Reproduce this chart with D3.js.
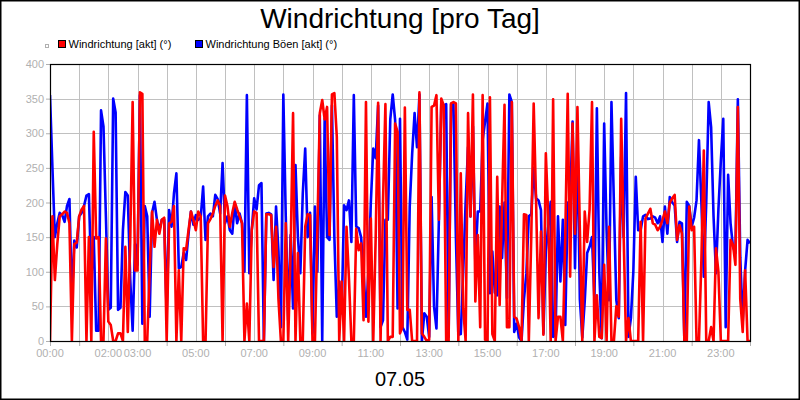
<!DOCTYPE html>
<meta charset="utf-8">
<style>
  body { margin: 0; background: #fff; }
  text { font-family: "Liberation Sans", Arial, sans-serif; }
</style>

<!-- Load d3.js -->
<script src="https://cdn.jsdelivr.net/npm/d3@7"></script>

<div id="my_dataviz"></div>

<script>

// values every 5 minutes, 00:00 .. 24:00
var windAkt = [
  0,180,88,140,180,183,187,185,170,0,
  140,142,180,190,195,0,150,0,302,148,
  150,0,0,148,28,23,0,0,11,11,
  0,136,13,143,345,102,102,359,357,0,
  0,100,187,136,175,155,175,178,0,170,
  172,195,0,102,0,134,132,160,187,175,
  160,187,180,0,0,170,176,184,195,203,
  195,0,210,195,165,185,201,190,180,170,
  0,54,0,160,187,185,0,0,0,183,
  183,182,107,165,60,0,0,170,0,130,
  329,0,127,0,0,165,183,182,0,0,
  160,329,348,320,338,153,356,358,295,0,
  86,0,165,90,0,0,162,131,141,30,
  345,28,177,0,150,344,0,200,342,0,
  6,6,314,302,11,20,337,45,45,0,
  0,0,359,11,6,0,2,338,340,355,
  175,350,340,0,0,343,345,343,0,242,
  47,0,329,180,356,57,153,20,355,2,
  0,352,10,0,237,52,200,341,20,20,
  345,35,32,20,0,183,182,0,150,343,
  200,33,158,9,271,180,0,349,0,35,
  35,0,150,357,93,314,155,338,160,0,
  187,143,190,345,0,66,6,4,110,0,
  165,0,0,50,35,321,155,0,33,0,
  0,0,0,172,0,177,184,191,170,168,
  160,165,175,187,170,200,206,211,146,167,
  155,0,0,194,160,165,0,0,117,275,
  0,0,20,0,134,100,0,0,0,0,
  146,139,110,338,60,13,102,0,0
]

var windBoeen = [
  355,250,150,170,185,182,172,195,205,60,
  145,135,180,185,195,210,212,90,150,15,
  15,333,310,180,45,48,350,330,45,48,
  160,215,210,90,15,140,110,355,25,195,
  180,35,185,201,175,160,175,175,40,189,
  165,213,242,105,107,127,117,155,187,168,
  182,175,178,223,146,180,184,180,211,205,
  184,257,170,180,160,155,199,170,184,170,
  100,355,98,160,206,190,225,228,0,184,
  185,183,88,194,130,20,356,180,30,153,
  47,254,150,98,213,278,150,185,11,194,
  100,326,0,321,150,146,340,150,35,86,
  40,196,189,203,143,355,165,163,150,100,
  35,100,200,278,264,340,20,30,175,175,
  320,356,319,47,321,20,13,2,194,270,
  329,280,356,0,40,35,6,208,50,18,
  175,346,340,342,6,342,342,150,9,10,
  100,200,280,180,310,112,187,187,290,317,
  343,69,129,70,66,194,120,200,62,356,
  345,13,25,5,0,60,98,180,183,250,
  206,203,189,11,130,165,201,6,10,180,
  86,175,23,200,200,317,105,300,60,5,
  57,127,136,150,59,336,100,4,314,160,
  59,345,200,59,33,266,150,358,6,33,
  100,237,160,160,180,182,176,177,180,178,
  170,180,143,194,155,208,200,196,143,172,
  170,0,201,195,165,178,203,290,200,93,
  200,345,309,180,98,190,260,321,20,240,
  170,136,127,349,120,28,102,146,141
]

var yTicks = [0, 50, 100, 150, 200, 250, 300, 350, 400]
var xTickHours = [0, 1, 4, 6, 8, 10, 12, 14, 16, 18, 20, 22, 24]
var xLabelHours = [0, 2, 3, 5, 7, 9, 11, 13, 15, 17, 19, 21, 23]
var seriesNames = ["Windrichtung [akt] (°)", "Windrichtung Böen [akt] (°)"]
var seriesColors = ["#ff0000", "#0000ff"]
var titleText = "Windrichtung [pro Tag]"
var dateText = "07.05"

var W = 800, H = 400
var margin = {top: 64, right: 50, bottom: 59, left: 50}

var svg = d3.select("#my_dataviz")
  .append("svg")
    .attr("width", W)
    .attr("height", H)

// white background + outer frame
svg.append("rect")
  .attr("x", 0.75).attr("y", 0.75)
  .attr("width", W - 1.5).attr("height", H - 1.5)
  .attr("fill", "#fff")
  .attr("stroke", "#000")
  .attr("stroke-width", 1.5)

// title
svg.append("text")
  .attr("x", 400).attr("y", 28)
  .attr("text-anchor", "middle")
  .style("font-size", "28px")
  .text(titleText)

// scales
var x = d3.scaleLinear().domain([0, 24]).range([margin.left, W - margin.right])
var y = d3.scaleLinear().domain([0, 400]).range([H - margin.bottom, margin.top])

// grid
var grid = svg.append("g").attr("stroke", "#c0c0c0").attr("stroke-width", 1)
grid.selectAll(".hgrid")
  .data(yTicks)
  .enter().append("line")
    .attr("x1", x(0)).attr("x2", x(24))
    .attr("y1", function(d){ return Math.round(y(d)) + 0.5 })
    .attr("y2", function(d){ return Math.round(y(d)) + 0.5 })
grid.selectAll(".vgrid")
  .data(d3.range(0, 25))
  .enter().append("line")
    .attr("y1", y(0)).attr("y2", y(400))
    .attr("x1", function(d){ return Math.round(x(d)) + 0.5 })
    .attr("x2", function(d){ return Math.round(x(d)) + 0.5 })

// Y axis
var yAxis = svg.append("g")
  .attr("transform", "translate(" + x(0) + ",0)")
  .call(d3.axisLeft(y).tickValues(yTicks).tickSize(4).tickPadding(2))
yAxis.select(".domain").remove()
yAxis.selectAll("line").attr("stroke", "#b0b0b0")
yAxis.selectAll("text")
  .attr("fill", "#b0b0b0")
  .style("font-size", "11px")
  .style("font-family", "'Liberation Sans', Arial, sans-serif")

// X axis: ticks and labels sit at different hours
var xAxis = svg.append("g")
  .attr("transform", "translate(0," + y(0) + ")")
  .call(d3.axisBottom(x).tickValues(xTickHours).tickSize(5).tickFormat(""))
xAxis.select(".domain").remove()
xAxis.selectAll("line").attr("stroke", "#b0b0b0")

svg.append("g").selectAll("text")
  .data(xLabelHours)
  .enter().append("text")
    .attr("x", function(d){ return x(d) })
    .attr("y", y(0) + 16)
    .attr("text-anchor", "middle")
    .attr("fill", "#b0b0b0")
    .style("font-size", "11px")
    .text(function(d){ return (d < 10 ? "0" : "") + d + ":00" })

// date under the axis
svg.append("text")
  .attr("x", 400).attr("y", 386)
  .attr("text-anchor", "middle")
  .style("font-size", "20px")
  .text(dateText)

// clip for the lines
svg.append("clipPath").attr("id", "plotclip")
  .append("rect")
    .attr("x", x(0)).attr("y", y(400))
    .attr("width", x(24) - x(0)).attr("height", y(0) - y(400))

var line = d3.line()
  .x(function(d, i){ return x(i * 5 / 60) })
  .y(function(d){ return y(d) })

var lines = svg.append("g").attr("clip-path", "url(#plotclip)")

// gusts first, current direction on top
lines.append("path")
  .datum(windBoeen)
  .attr("d", line)
  .attr("fill", "none")
  .attr("stroke", seriesColors[1])
  .attr("stroke-width", 2.6)
  .attr("stroke-linejoin", "round")

lines.append("path")
  .datum(windAkt)
  .attr("d", line)
  .attr("fill", "none")
  .attr("stroke", seriesColors[0])
  .attr("stroke-width", 2.6)
  .attr("stroke-linejoin", "round")

// plot frame
svg.append("rect")
  .attr("x", x(0) + 0.5).attr("y", y(400) + 0.5)
  .attr("width", x(24) - x(0)).attr("height", y(0) - y(400))
  .attr("fill", "none")
  .attr("stroke", "#000")
  .attr("stroke-width", 1.2)

// legend
svg.append("rect")
  .attr("x", 45.5).attr("y", 44.5)
  .attr("width", 3).attr("height", 3)
  .attr("fill", "#fff")
  .attr("stroke", "#b0b0b0")

var legendX = [58, 195]
var legend = svg.append("g")
  .selectAll("g")
  .data(seriesNames)
  .enter().append("g")
    .attr("transform", function(d, i){ return "translate(" + legendX[i] + ",40)" })
legend.append("rect")
  .attr("x", 0.5).attr("y", 0.5)
  .attr("width", 7).attr("height", 7)
  .attr("fill", function(d, i){ return seriesColors[i] })
  .attr("stroke", "#000")
legend.append("text")
  .attr("x", 10.5).attr("y", 7.5)
  .style("font-size", "11px")
  .text(function(d){ return d })

</script>
